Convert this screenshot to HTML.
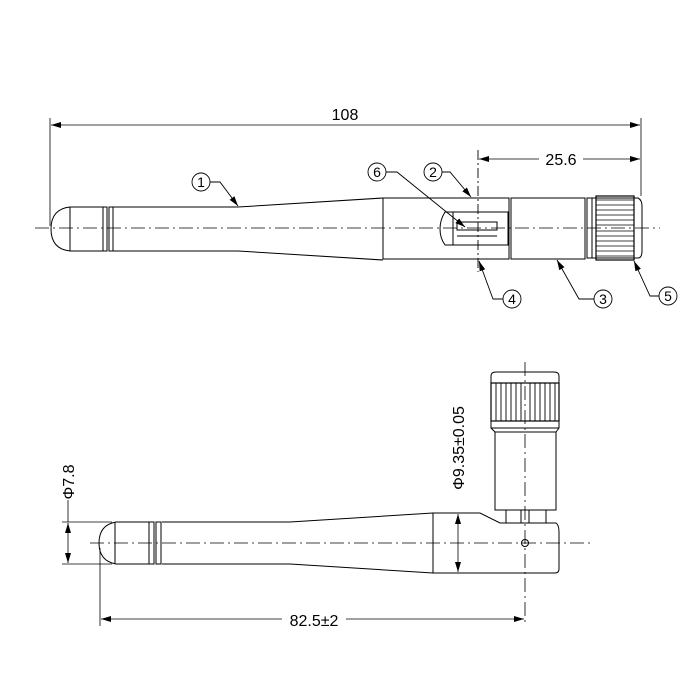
<!DOCTYPE html>
<html><head><meta charset="utf-8"><style>html,body{margin:0;padding:0;background:#fff}svg{display:block}</style></head>
<body>
<svg width="700" height="700" viewBox="0 0 700 700" xmlns="http://www.w3.org/2000/svg" font-family="'Liberation Sans', 'DejaVu Sans', sans-serif">
<defs>
<marker id="a" viewBox="0 0 10 6" refX="10" refY="3" markerWidth="10" markerHeight="6" orient="auto-start-reverse" markerUnits="userSpaceOnUse"><path d="M0,0 L10,3 L0,6 z" fill="#000"/></marker>
</defs>
<g stroke="#000" stroke-width="1" fill="none">
<line x1="35" y1="228" x2="660" y2="228" stroke-dasharray="14,4,2,4" stroke-width="0.8"/>
<line x1="50" y1="118" x2="50" y2="226" stroke-width="0.8"/>
<line x1="641" y1="118" x2="641" y2="196" stroke-width="0.8"/>
<line x1="51" y1="125" x2="640" y2="125" marker-start="url(#a)" marker-end="url(#a)" stroke-width="0.8"/>
<line x1="479" y1="159" x2="640" y2="159" marker-start="url(#a)" marker-end="url(#a)" stroke-width="0.8"/>
<line x1="478" y1="150" x2="478" y2="272" stroke-dasharray="10,3,2,3" stroke-width="0.9"/>
<path d="M103,207 L70,207 Q51,209 51,229 Q51,249 70,251 L103,251"/>
<line x1="70" y1="207" x2="70" y2="251"/>
<rect x="103" y="207" width="4" height="44"/>
<rect x="109" y="207" width="4" height="44"/>
<path d="M113,207 L238,207 L383,198 M113,251 L238,251 L383,260"/>
<rect x="383" y="198" width="126" height="61"/>
<path d="M453,212 L445,212 Q440,220 440,229 Q440,238 445,245 L453,245"/>
<rect x="453" y="212" width="55" height="33"/>
<rect x="457" y="222" width="40" height="8"/>
<line x1="457" y1="236" x2="497" y2="236"/>
<rect x="511" y="198" width="74" height="61"/>
<path d="M587,198 L638,198 Q642,200 642,206 L642,251 Q642,258 638,258 L587,258 Z"/>
<line x1="592" y1="198" x2="592" y2="258"/>
<rect x="596" y="196" width="38" height="64" stroke-width="1.2"/>
<g stroke-width="0.8">
<line x1="596" y1="200" x2="634" y2="200"/><line x1="596" y1="205" x2="634" y2="205"/><line x1="596" y1="210" x2="634" y2="210"/><line x1="596" y1="215" x2="634" y2="215"/><line x1="596" y1="220" x2="634" y2="220"/><line x1="596" y1="225" x2="634" y2="225"/><line x1="596" y1="231" x2="634" y2="231"/><line x1="596" y1="236" x2="634" y2="236"/><line x1="596" y1="241" x2="634" y2="241"/><line x1="596" y1="246" x2="634" y2="246"/><line x1="596" y1="251" x2="634" y2="251"/><line x1="596" y1="256" x2="634" y2="256"/>
</g>
<g stroke-width="0.9">
<circle cx="201" cy="182" r="9"/><path d="M210,182 L220,182 L238,206" marker-end="url(#a)"/>
<circle cx="377" cy="172" r="9"/><path d="M386,172 L397,172 L465,227" marker-end="url(#a)"/>
<circle cx="433" cy="172" r="9"/><path d="M442,172 L450,172 L471,197" marker-end="url(#a)"/>
<circle cx="512" cy="299" r="9"/><path d="M503,299 L493,299 L479,261" marker-end="url(#a)"/>
<circle cx="603" cy="299" r="9"/><path d="M594,299 L579,299 L557,260" marker-end="url(#a)"/>
<circle cx="668" cy="296" r="9"/><path d="M659,296 L650,296 L634,261" marker-end="url(#a)"/>
</g>
<line x1="90" y1="543" x2="590" y2="543" stroke-dasharray="14,4,2,4" stroke-width="0.8"/>
<line x1="525" y1="362" x2="525" y2="625" stroke-dasharray="14,4,2,4" stroke-width="0.8"/>
<path d="M149,522 L116,522 Q99,525 99,543 Q99,561 116,564 L149,564"/>
<line x1="115" y1="522" x2="115" y2="564"/>
<rect x="149" y="522" width="5" height="42"/>
<rect x="156" y="522" width="5" height="42"/>
<path d="M162,522 L290,522 L433,513 M162,564 L290,564 L433,573"/>
<path d="M433,513 L480,513 L500,523 L506,523 L546,523 L556,523 Q559,525 559,532 L559,569 Q559,573 555,573 L433,573 Z"/>
<rect x="506" y="510" width="40" height="13"/>
<line x1="521" y1="510" x2="521" y2="523"/><line x1="529" y1="510" x2="529" y2="523"/>
<rect x="495" y="432" width="61" height="78"/>
<path d="M491,383 L491,376 Q491,372 496,372 L554,372 Q559,372 559,376 L559,383"/>
<rect x="491" y="383" width="68" height="38" stroke-width="1.2"/>
<path d="M491,421 L491,428 L495,432 M559,421 L559,428 L556,432"/>
<line x1="491" y1="428" x2="559" y2="428"/>
<g stroke-width="0.9">
<line x1="496" y1="383" x2="496" y2="421"/><line x1="501" y1="383" x2="501" y2="421"/><line x1="506" y1="383" x2="506" y2="421"/><line x1="511" y1="383" x2="511" y2="421"/><line x1="516" y1="383" x2="516" y2="421"/><line x1="521" y1="383" x2="521" y2="421"/><line x1="530" y1="383" x2="530" y2="421"/><line x1="535" y1="383" x2="535" y2="421"/><line x1="540" y1="383" x2="540" y2="421"/><line x1="545" y1="383" x2="545" y2="421"/><line x1="550" y1="383" x2="550" y2="421"/><line x1="555" y1="383" x2="555" y2="421"/>
</g>
<circle cx="525" cy="543" r="3.5"/>
<line x1="100" y1="548" x2="100" y2="626" stroke-width="0.8"/>
<line x1="101" y1="619" x2="524" y2="619" marker-start="url(#a)" marker-end="url(#a)" stroke-width="0.8"/>
<line x1="62" y1="522" x2="112" y2="522" stroke-width="0.8"/>
<line x1="62" y1="564" x2="112" y2="564" stroke-width="0.8"/>
<line x1="68" y1="500" x2="68" y2="522" stroke-width="0.8"/>
<line x1="68" y1="523" x2="68" y2="563" marker-start="url(#a)" marker-end="url(#a)" stroke-width="0.8"/>
<line x1="458" y1="514" x2="458" y2="572" marker-start="url(#a)" marker-end="url(#a)" stroke-width="0.8"/>
</g>
<g font-size="16" fill="#000" text-anchor="middle">
<text x="345" y="120">108</text>
<rect x="539" y="150" width="44" height="16" fill="#fff"/>
<text x="561" y="165">25.6</text>
<text x="201" y="187" font-size="14">1</text>
<text x="377" y="177" font-size="14">6</text>
<text x="433" y="177" font-size="14">2</text>
<text x="512" y="304" font-size="14">4</text>
<text x="603" y="304" font-size="14">3</text>
<text x="668" y="301" font-size="14">5</text>
<rect x="282" y="611" width="64" height="16" fill="#fff"/>
<text x="314" y="626">82.5±2</text>
<text transform="translate(74,482) rotate(-90)">Φ7.8</text>
<text transform="translate(464,448) rotate(-90)">Φ9.35±0.05</text>
</g>
</svg>
</body></html>
